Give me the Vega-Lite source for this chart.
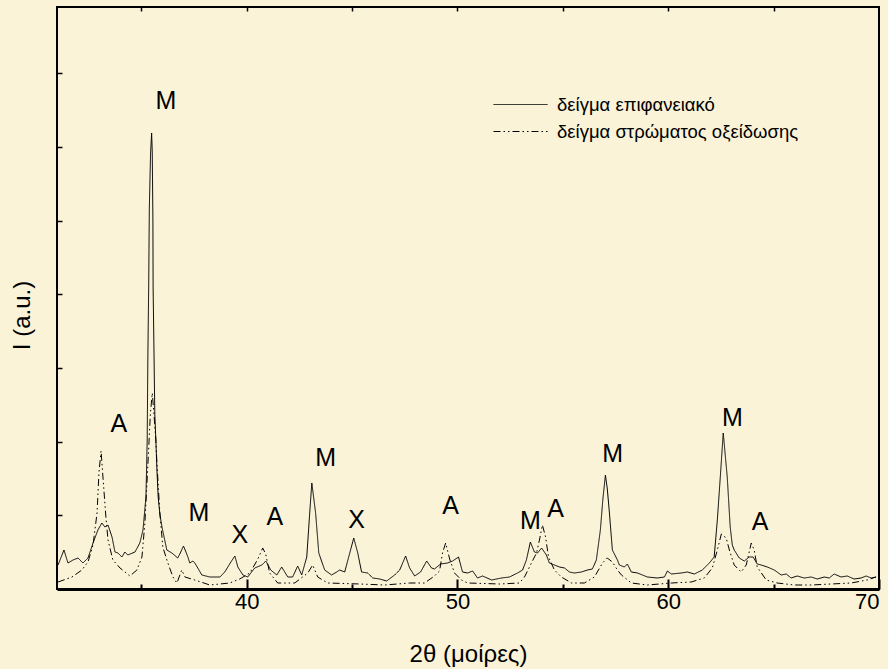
{
  "$schema": "https://vega.github.io/schema/vega-lite/v6.json",
  "width": 822,
  "height": 582,
  "autosize": {"type": "none"},
  "padding": {"left": 57, "top": 7, "right": 9, "bottom": 80},
  "background": "#FAF3D8",
  "config": {
    "view": {"stroke": "#000", "strokeWidth": 2, "fill": "#FAF3D8"},
    "axis": {"grid": false, "tickColor": "#000", "labelColor": "#000", "titleColor": "#000", "domain": false}
  },
  "layer": [
    {
      "data": {"values": [
        {"angle":31.05,"intensity":24},{"angle":31.33,"intensity":39},{"angle":31.52,"intensity":26},{"angle":31.76,"intensity":29},{"angle":32.00,"intensity":31},{"angle":32.23,"intensity":26},{"angle":32.47,"intensity":31},{"angle":32.71,"intensity":46},{"angle":32.94,"intensity":59},{"angle":33.13,"intensity":66},{"angle":33.27,"intensity":62},{"angle":33.42,"intensity":64},{"angle":33.61,"intensity":52},{"angle":33.75,"intensity":37},{"angle":33.89,"intensity":36},{"angle":34.08,"intensity":32},{"angle":34.22,"intensity":37},{"angle":34.36,"intensity":34},{"angle":34.70,"intensity":37},{"angle":34.93,"intensity":46},{"angle":35.08,"intensity":59},{"angle":35.22,"intensity":92},{"angle":35.28,"intensity":149},{"angle":35.31,"intensity":230},{"angle":35.35,"intensity":302},{"angle":35.38,"intensity":380},{"angle":35.44,"intensity":436},{"angle":35.49,"intensity":456},{"angle":35.52,"intensity":436},{"angle":35.55,"intensity":369},{"angle":35.56,"intensity":302},{"angle":35.60,"intensity":240},{"angle":35.64,"intensity":175},{"angle":35.69,"intensity":149},{"angle":35.74,"intensity":120},{"angle":35.80,"intensity":92},{"angle":35.88,"intensity":75},{"angle":35.98,"intensity":62},{"angle":36.21,"intensity":39},{"angle":36.45,"intensity":36},{"angle":36.73,"intensity":31},{"angle":36.85,"intensity":36},{"angle":37.00,"intensity":43},{"angle":37.10,"intensity":38},{"angle":37.21,"intensity":32},{"angle":37.30,"intensity":26},{"angle":37.45,"intensity":28},{"angle":37.54,"intensity":26},{"angle":37.68,"intensity":21},{"angle":37.87,"intensity":14},{"angle":38.25,"intensity":12},{"angle":38.49,"intensity":12},{"angle":38.73,"intensity":12},{"angle":38.96,"intensity":17},{"angle":39.25,"intensity":27},{"angle":39.44,"intensity":33},{"angle":39.58,"intensity":22},{"angle":39.82,"intensity":14},{"angle":40.05,"intensity":12},{"angle":40.38,"intensity":21},{"angle":40.72,"intensity":24},{"angle":40.91,"intensity":28},{"angle":41.14,"intensity":19},{"angle":41.43,"intensity":14},{"angle":41.66,"intensity":22},{"angle":41.95,"intensity":12},{"angle":42.18,"intensity":12},{"angle":42.42,"intensity":23},{"angle":42.61,"intensity":14},{"angle":42.85,"intensity":32},{"angle":42.99,"intensity":76},{"angle":43.09,"intensity":106},{"angle":43.27,"intensity":76},{"angle":43.42,"intensity":36},{"angle":43.70,"intensity":19},{"angle":44.03,"intensity":14},{"angle":44.27,"intensity":17},{"angle":44.41,"intensity":19},{"angle":44.65,"intensity":17},{"angle":44.89,"intensity":36},{"angle":45.08,"intensity":51},{"angle":45.27,"intensity":36},{"angle":45.45,"intensity":17},{"angle":45.74,"intensity":16},{"angle":45.98,"intensity":11},{"angle":46.31,"intensity":10},{"angle":46.64,"intensity":8},{"angle":47.02,"intensity":14},{"angle":47.26,"intensity":19},{"angle":47.54,"intensity":33},{"angle":47.73,"intensity":21},{"angle":47.97,"intensity":13},{"angle":48.25,"intensity":17},{"angle":48.54,"intensity":28},{"angle":48.77,"intensity":21},{"angle":48.91,"intensity":20},{"angle":49.20,"intensity":25},{"angle":49.53,"intensity":26},{"angle":49.77,"intensity":28},{"angle":50.05,"intensity":32},{"angle":50.24,"intensity":17},{"angle":50.48,"intensity":16},{"angle":50.72,"intensity":18},{"angle":50.95,"intensity":11},{"angle":51.19,"intensity":13},{"angle":51.62,"intensity":9},{"angle":52.09,"intensity":11},{"angle":52.47,"intensity":12},{"angle":52.85,"intensity":16},{"angle":53.09,"intensity":19},{"angle":53.27,"intensity":29},{"angle":53.46,"intensity":47},{"angle":53.65,"intensity":37},{"angle":53.80,"intensity":36},{"angle":53.99,"intensity":41},{"angle":54.22,"intensity":34},{"angle":54.36,"intensity":26},{"angle":54.60,"intensity":24},{"angle":54.84,"intensity":22},{"angle":55.08,"intensity":21},{"angle":55.31,"intensity":17},{"angle":55.55,"intensity":16},{"angle":55.88,"intensity":17},{"angle":56.17,"intensity":19},{"angle":56.40,"intensity":20},{"angle":56.59,"intensity":29},{"angle":56.78,"intensity":59},{"angle":56.90,"intensity":90},{"angle":57.02,"intensity":114},{"angle":57.11,"intensity":100},{"angle":57.21,"intensity":76},{"angle":57.35,"intensity":39},{"angle":57.59,"intensity":29},{"angle":57.68,"intensity":24},{"angle":57.92,"intensity":22},{"angle":58.06,"intensity":25},{"angle":58.25,"intensity":17},{"angle":58.54,"intensity":16},{"angle":59.01,"intensity":12},{"angle":59.48,"intensity":11},{"angle":59.82,"intensity":12},{"angle":59.96,"intensity":18},{"angle":60.15,"intensity":15},{"angle":60.62,"intensity":16},{"angle":60.91,"intensity":17},{"angle":61.24,"intensity":15},{"angle":61.62,"intensity":19},{"angle":61.95,"intensity":26},{"angle":62.18,"intensity":32},{"angle":62.33,"intensity":69},{"angle":62.47,"intensity":112},{"angle":62.61,"intensity":156},{"angle":62.80,"intensity":112},{"angle":62.94,"intensity":62},{"angle":63.04,"intensity":44},{"angle":63.13,"intensity":39},{"angle":63.37,"intensity":31},{"angle":63.61,"intensity":28},{"angle":63.84,"intensity":32},{"angle":64.03,"intensity":32},{"angle":64.22,"intensity":25},{"angle":64.41,"intensity":24},{"angle":64.70,"intensity":22},{"angle":65.03,"intensity":19},{"angle":65.36,"intensity":14},{"angle":65.60,"intensity":15},{"angle":65.83,"intensity":11},{"angle":66.12,"intensity":13},{"angle":66.45,"intensity":11},{"angle":66.78,"intensity":12},{"angle":67.07,"intensity":10},{"angle":67.40,"intensity":12},{"angle":67.64,"intensity":11},{"angle":67.87,"intensity":15},{"angle":68.20,"intensity":12},{"angle":68.49,"intensity":13},{"angle":68.82,"intensity":10},{"angle":69.15,"intensity":11},{"angle":69.39,"intensity":13},{"angle":69.63,"intensity":11},{"angle":69.86,"intensity":12}
      ]},
      "mark": {"type": "line", "color": "#000", "strokeWidth": 1},
      "encoding": {
        "x": {"field": "angle", "type": "quantitative",
          "scale": {"domain": [31, 70], "nice": false, "zero": false},
          "axis": {"orient": "bottom", "values": [35, 40, 45, 50, 55, 60, 65, 70],
            "labelExpr": "datum.value % 10 === 0 ? datum.label : ''",
            "tickSize": {"condition": {"test": "datum.value % 10 === 0", "value": -10}, "value": -5},
            "tickWidth": 2, "domain": true, "domainWidth": 3, "domainColor": "#000",
            "labelFont": "Liberation Sans Narrow, Liberation Sans", "labelFontSize": 22, "labelPadding": 12,
            "title": "2θ (μοίρες)", "titleFont": "Liberation Sans", "titleFontSize": 24, "titleFontWeight": "normal",
            "titleY": 65, "titleBaseline": "middle"}},
        "y": {"field": "intensity", "type": "quantitative",
          "scale": {"domain": [0, 582], "nice": false},
          "axis": {"orient": "left", "values": [74, 147, 221, 295, 368, 442, 516], "labels": false,
            "tickSize": -5, "tickWidth": 1.5,
            "title": "I (a.u.)", "titleFont": "Liberation Sans", "titleFontSize": 24, "titleFontWeight": "normal",
            "titleAngle": -90, "titleX": -35, "titleY": 308, "titleBaseline": "middle", "titleAlign": "center"}},
        "strokeDash": {"datum": "δείγμα επιφανειακό",
          "scale": {"domain": ["δείγμα επιφανειακό", "δείγμα στρώματος οξείδωσης"], "range": [[1, 0], [7, 3, 1.5, 3, 1.5, 3]]},
          "legend": {"orient": "none", "legendX": 436, "legendY": 84, "title": null,
            "symbolType": "stroke", "symbolSize": 2916, "symbolStrokeWidth": 1, "symbolStrokeColor": "#000",
            "labelFont": "Liberation Sans", "labelFontSize": 18.5, "labelColor": "#000", "labelOffset": 9,
            "clipHeight": 27, "padding": 0, "rowPadding": 0, "labelLimit": 400}}
      }
    },
    {
      "data": {"values": [
        {"angle":31.05,"intensity":7},{"angle":31.71,"intensity":12},{"angle":32.18,"intensity":19},{"angle":32.47,"intensity":27},{"angle":32.71,"intensity":44},{"angle":32.90,"intensity":76},{"angle":32.99,"intensity":116},{"angle":33.09,"intensity":138},{"angle":33.18,"intensity":112},{"angle":33.32,"intensity":72},{"angle":33.42,"intensity":49},{"angle":33.65,"intensity":29},{"angle":33.99,"intensity":21},{"angle":34.46,"intensity":13},{"angle":34.79,"intensity":19},{"angle":35.03,"intensity":32},{"angle":35.17,"intensity":66},{"angle":35.30,"intensity":119},{"angle":35.37,"intensity":149},{"angle":35.43,"intensity":175},{"angle":35.52,"intensity":196},{"angle":35.60,"intensity":175},{"angle":35.69,"intensity":149},{"angle":35.74,"intensity":126},{"angle":35.88,"intensity":76},{"angle":36.02,"intensity":42},{"angle":36.26,"intensity":26},{"angle":36.50,"intensity":12},{"angle":36.69,"intensity":6},{"angle":36.83,"intensity":14},{"angle":36.92,"intensity":19},{"angle":37.07,"intensity":12},{"angle":37.54,"intensity":9},{"angle":38.25,"intensity":4},{"angle":39.20,"intensity":6},{"angle":39.67,"intensity":10},{"angle":40.15,"intensity":16},{"angle":40.53,"intensity":30},{"angle":40.76,"intensity":41},{"angle":40.90,"intensity":35},{"angle":41.09,"intensity":16},{"angle":41.47,"intensity":6},{"angle":42.28,"intensity":6},{"angle":42.90,"intensity":16},{"angle":43.13,"intensity":24},{"angle":43.37,"intensity":12},{"angle":43.84,"intensity":6},{"angle":45.36,"intensity":5},{"angle":46.55,"intensity":4},{"angle":47.73,"intensity":6},{"angle":48.44,"intensity":6},{"angle":48.91,"intensity":13},{"angle":49.15,"intensity":18},{"angle":49.29,"intensity":36},{"angle":49.44,"intensity":46},{"angle":49.63,"intensity":30},{"angle":49.86,"intensity":16},{"angle":50.19,"intensity":9},{"angle":50.48,"intensity":6},{"angle":52.00,"intensity":5},{"angle":52.94,"intensity":6},{"angle":53.18,"intensity":12},{"angle":53.51,"intensity":26},{"angle":53.75,"intensity":36},{"angle":53.89,"intensity":49},{"angle":54.03,"intensity":64},{"angle":54.18,"intensity":52},{"angle":54.32,"intensity":32},{"angle":54.60,"intensity":19},{"angle":54.93,"intensity":12},{"angle":55.41,"intensity":6},{"angle":56.02,"intensity":6},{"angle":56.50,"intensity":12},{"angle":56.88,"intensity":26},{"angle":57.11,"intensity":31},{"angle":57.35,"intensity":27},{"angle":57.59,"intensity":19},{"angle":57.78,"intensity":14},{"angle":58.25,"intensity":6},{"angle":59.01,"intensity":4},{"angle":60.15,"intensity":6},{"angle":61.09,"intensity":7},{"angle":61.71,"intensity":11},{"angle":62.09,"intensity":21},{"angle":62.33,"intensity":39},{"angle":62.52,"intensity":55},{"angle":62.75,"intensity":51},{"angle":62.90,"intensity":39},{"angle":63.13,"intensity":24},{"angle":63.46,"intensity":17},{"angle":63.70,"intensity":24},{"angle":63.94,"intensity":46},{"angle":64.08,"intensity":39},{"angle":64.22,"intensity":22},{"angle":64.65,"intensity":9},{"angle":65.17,"intensity":6},{"angle":65.98,"intensity":4},{"angle":66.78,"intensity":4},{"angle":67.73,"intensity":5},{"angle":68.68,"intensity":6},{"angle":69.44,"intensity":9},{"angle":69.86,"intensity":12}
      ]},
      "mark": {"type": "line", "color": "#000", "strokeWidth": 1},
      "encoding": {
        "x": {"field": "angle", "type": "quantitative", "axis": null},
        "y": {"field": "intensity", "type": "quantitative"},
        "strokeDash": {"datum": "δείγμα στρώματος οξείδωσης"}
      }
    },
    {
      "data": {"values": [
        {"angle":36.17,"intensity":488,"label":"M"},
        {"angle":33.94,"intensity":165,"label":"A"},
        {"angle":37.73,"intensity":76,"label":"M"},
        {"angle":39.67,"intensity":54,"label":"X"},
        {"angle":41.33,"intensity":72,"label":"A"},
        {"angle":43.75,"intensity":131,"label":"M"},
        {"angle":45.22,"intensity":69,"label":"X"},
        {"angle":49.67,"intensity":83,"label":"A"},
        {"angle":53.46,"intensity":68,"label":"M"},
        {"angle":54.65,"intensity":80,"label":"A"},
        {"angle":57.36,"intensity":135,"label":"M"},
        {"angle":63.04,"intensity":171,"label":"M"},
        {"angle":64.36,"intensity":67,"label":"A"}
      ]},
      "mark": {"type": "text", "font": "Liberation Sans", "fontSize": 25, "color": "#000", "align": "center", "baseline": "middle"},
      "encoding": {
        "x": {"field": "angle", "type": "quantitative",
          "axis": {"orient": "top", "values": [35, 40, 45, 50, 55, 60, 65], "labels": false, "tickSize": -4, "tickWidth": 1.5, "title": null}},
        "y": {"field": "intensity", "type": "quantitative"},
        "text": {"field": "label"}
      }
    }
  ],
  "resolve": {"axis": {"x": "independent"}}
}
